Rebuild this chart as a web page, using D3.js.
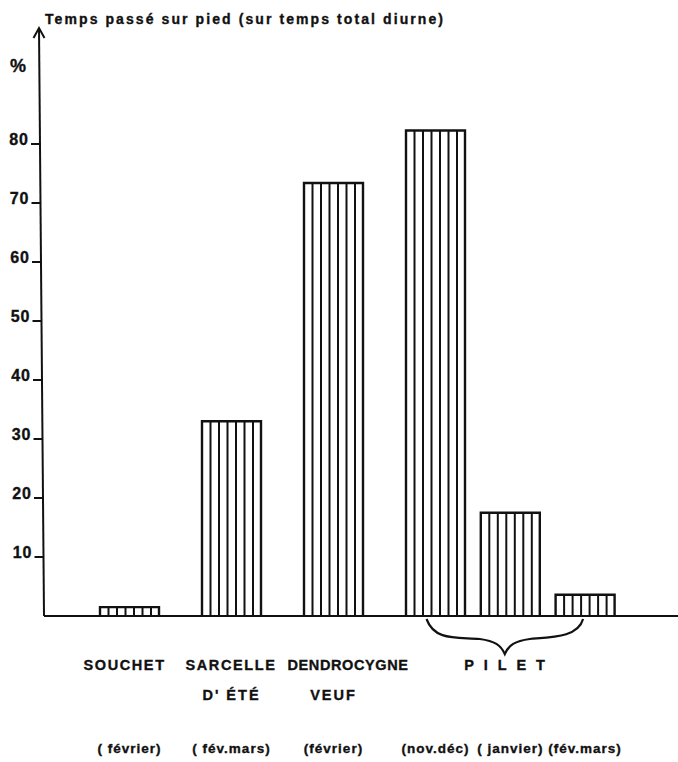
<!DOCTYPE html>
<html><head><meta charset="utf-8">
<script src="https://cdn.jsdelivr.net/npm/d3@7"></script>
<style>
body{margin:0;background:#fff}
svg{display:block}
text{font-family:"Liberation Sans",Arial,Helvetica,sans-serif;font-weight:bold;fill:#111;stroke:#111;stroke-width:0.35px}
</style></head><body>
<svg id="c" width="678" height="762"></svg>
<script>
// ---- data ----
const species = ["SOUCHET","SARCELLE","DENDROCYGNE","PILET"];
const speciesLine1 = ["SOUCHET","SARCELLE","DENDROCYGNE","P I L E T"];
const speciesLine2 = ["","D' ÉTÉ","VEUF",""];
const barSpecies = ["SOUCHET","SARCELLE","DENDROCYGNE","PILET","PILET","PILET"];
const periods = ["( février)","( fév.mars)","(février)","(nov.déc)","( janvier)","(fév.mars)"];
const values = [1.5, 33, 73.4, 82.3, 17.5, 3.6];
const yTicks = [10,20,30,40,50,60,70,80];
const title = "Temps passé sur pied (sur temps total diurne)";
const unit = "%";

// ---- layout ----
const svg = d3.select("#c");
const ink = "#111";
const baseY = 616, topY = 144;
const y = d3.scaleLinear().domain([0, 80]).range([baseY, topY]);
const xGroup = d3.scalePoint().domain(species).range([129.5, 435.5]);
const xSub = d3.scaleLinear().domain([0, 1]).range([0, 74.8]);
const barW = 59;

const counters = {};
const bars = values.map((v, i) => {
  const sp = barSpecies[i];
  const k = counters[sp] || 0; counters[sp] = k + 1;
  return {value: v, species: sp, period: periods[i], cx: xGroup(sp) + xSub(k)};
});

// axis (slightly tilted, as in the drawing)
const axTop = 28;
const axisX = yp => 39 + (yp - axTop) * (5 / (baseY - axTop));
svg.append("line").attr("x1", axisX(axTop)).attr("y1", axTop)
  .attr("x2", axisX(baseY)).attr("y2", baseY)
  .attr("stroke", ink).attr("stroke-width", 2);
svg.append("path")
  .attr("d", `M${axisX(axTop)-5.5},${axTop+10} L${axisX(axTop)},${axTop} L${axisX(axTop)+5.5},${axTop+10}`)
  .attr("fill", "none").attr("stroke", ink).attr("stroke-width", 2);

const yAxis = svg.append("g")
  .call(d3.axisLeft(y).tickValues(yTicks).tickSize(9).tickPadding(2).tickFormat(d3.format("d")));
yAxis.select(".domain").remove();
yAxis.selectAll(".tick").attr("transform", d => `translate(${axisX(y(d))},${y(d)})`);
yAxis.selectAll(".tick line").attr("stroke", ink).attr("stroke-width", 2);
yAxis.selectAll(".tick text").attr("dy", "0.05em").attr("fill", ink)
  .style("font-size", "16px").style("letter-spacing", "1px")
  .style("font-family", "'Liberation Sans',Arial,sans-serif").style("font-weight", "bold");

// baseline
svg.append("line").attr("x1", axisX(baseY)).attr("x2", 678)
  .attr("y1", baseY).attr("y2", baseY).attr("stroke", ink).attr("stroke-width", 2);

// bars with vertical hatching
const bg = svg.append("g");
bars.forEach(b => {
  const x0 = b.cx - barW / 2, x1 = b.cx + barW / 2, yt = y(b.value);
  const g = bg.append("g");
  const step = 8.5;
  g.selectAll("line.h").data(d3.range(x0 + step, x1 - 3, step)).join("line")
    .attr("x1", d => d).attr("x2", d => d).attr("y1", yt).attr("y2", baseY)
    .attr("stroke", ink).attr("stroke-width", 2);
  g.append("path")
    .attr("d", `M${x0},${baseY} L${x0},${yt} L${x1},${yt} L${x1},${baseY}`)
    .attr("fill", "none").attr("stroke", ink).attr("stroke-width", 2.4);
});

// title & unit
svg.append("text").attr("x", 45).attr("y", 24).text(title)
  .style("font-size", "14px").attr("textLength", 398).attr("lengthAdjust", "spacing");
svg.append("text").attr("x", 10).attr("y", 72).text(unit).style("font-size", "18px");

// species labels
species.forEach((sp, i) => {
  const cs = bars.filter(b => b.species === sp).map(b => b.cx);
  const c = d3.mean(cs);
  svg.append("text").attr("x", c - 46).attr("y", 670).text(speciesLine1[i])
    .style("font-size", "14.5px").style("letter-spacing", sp === "PILET" ? "3px" : (sp === "DENDROCYGNE" ? "0.6px" : "1.6px"));
  if (speciesLine2[i]) {
    svg.append("text").attr("x", c).attr("y", 700).attr("text-anchor", "middle")
      .text(speciesLine2[i]).style("font-size", "14.5px").style("letter-spacing", "2px");
  }
});

// period labels
svg.selectAll("text.per").data(bars).join("text").attr("class", "per")
  .attr("x", d => d.cx).attr("y", 753).attr("text-anchor", "middle")
  .text(d => d.period).style("font-size", "13.5px").style("letter-spacing", "1px");

// brace under the PILET bars
const pil = bars.filter(b => b.species === "PILET").map(b => b.cx);
const bx0 = pil[0] - 9, bx1 = pil[pil.length - 1] - 2, bm = (bx0 + bx1) / 2;
const by0 = 619, by1 = 654;
svg.append("path")
  .attr("d", `M${bx0},${by0} C${bx0+8},${by0+22} ${bx0+30},${by0+18} ${bm-25},${by0+20}
              C${bm-10},${by0+22} ${bm-4},${by0+26} ${bm},${by1}
              C${bm+4},${by0+26} ${bm+10},${by0+22} ${bm+25},${by0+20}
              C${bx1-30},${by0+18} ${bx1-5},${by0+18} ${bx1},${by0}`)
  .attr("fill", "none").attr("stroke", ink).attr("stroke-width", 2.2);
</script>
</body></html>
